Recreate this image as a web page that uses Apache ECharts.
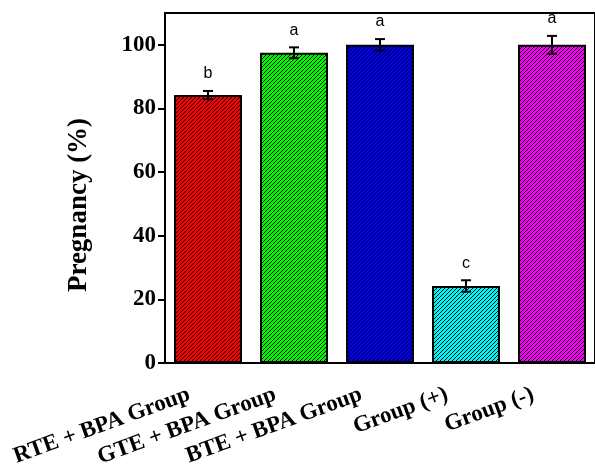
<!DOCTYPE html>
<html>
<head>
<meta charset="utf-8">
<script src="https://cdn.jsdelivr.net/npm/echarts@6/dist/echarts.min.js"></script>
<style>
  html, body { margin: 0; padding: 0; background: #fff; }
  #main { width: 595px; height: 464px; }
</style>
</head>
<body>
<div id="main"></div>
<script>
// data
const groups = ['RTE + BPA Group', 'GTE + BPA Group', 'BTE + BPA Group', 'Group (+)', 'Group (-)']
const pregnancy = [84.2, 97.5, 100, 24.2, 100]
const errors = [1.3, 1.7, 1.8, 1.8, 2.8]
const letters = ['b', 'a', 'a', 'c', 'a']
const barColors = ['#ff0000', '#00f800', '#0000f8', '#00f8f8', '#f800f8']
const yTicks = [0, 20, 40, 60, 80, 100]

// hatched fill: thin 45deg black stripes, drawn pixel by pixel so they stay crisp
function hatch (color) {
  const n = 4
  const c = document.createElement('canvas')
  c.width = n
  c.height = n
  const ctx = c.getContext('2d')
  ctx.fillStyle = color
  ctx.fillRect(0, 0, n, n)
  ctx.fillStyle = '#000'
  for (let x = 0; x < n; x++) {
    for (let y = 0; y < n; y++) {
      if ((x + y) % n === 0) ctx.fillRect(x, y, 1, 1)
    }
  }
  return { image: c, repeat: 'repeat' }
}

const myChart = echarts.init(document.getElementById('main'))

const option = {
  animation: false,
  grid: {
    left: 165, top: 13, width: 430, height: 350,
    outerBoundsMode: 'none',
    show: true, borderColor: '#000', borderWidth: 2, backgroundColor: 'transparent'
  },
  xAxis: {
    type: 'category',
    data: groups,
    axisLine: { lineStyle: { color: '#000', width: 2 } },
    axisTick: { alignWithLabel: true, length: 7, lineStyle: { color: '#000', width: 2 } },
    axisLabel: {
      interval: 0,
      rotate: 20,
      margin: 24,
      padding: [0, 20, 0, 0],
      color: '#000',
      fontFamily: 'Liberation Serif',
      fontWeight: 'bold',
      fontSize: 23
    }
  },
  yAxis: {
    type: 'value',
    min: 0,
    max: 110,
    interval: 20,
    name: 'Pregnancy (%)',
    nameLocation: 'middle',
    nameGap: 72,
    nameTextStyle: {
      color: '#000', fontFamily: 'Liberation Serif', fontWeight: 'bold', fontSize: 27,
      padding: [0, 34, 0, 0]
    },
    splitLine: { show: false },
    axisLine: { show: true, lineStyle: { color: '#000', width: 2 } },
    axisTick: { show: true, length: 7, customValues: yTicks, lineStyle: { color: '#000', width: 2 } },
    axisLabel: {
      customValues: yTicks,
      margin: 9,
      color: '#000',
      fontFamily: 'Liberation Serif',
      fontWeight: 'bold',
      fontSize: 23
    }
  },
  series: [
    {
      type: 'bar',
      barWidth: '79%',
      data: pregnancy.map((v, i) => ({
        value: v,
        itemStyle: { color: hatch(barColors[i]), borderColor: '#000', borderWidth: 2 }
      }))
    },
    {
      type: 'custom',
      data: pregnancy.map((v, i) => [i, v, errors[i]]),
      z: 5,
      renderItem: function (params, api) {
        const i = api.value(0)
        const v = api.value(1)
        const e = api.value(2)
        const hi = api.coord([i, v + e])
        const lo = api.coord([i, v - e])
        const cap = 5
        const st = { stroke: '#000', lineWidth: 2 }
        return {
          type: 'group',
          children: [
            { type: 'line', shape: { x1: hi[0], y1: hi[1], x2: lo[0], y2: lo[1] }, style: st },
            { type: 'line', shape: { x1: hi[0] - cap, y1: hi[1], x2: hi[0] + cap, y2: hi[1] }, style: st },
            { type: 'line', shape: { x1: lo[0] - cap, y1: lo[1], x2: lo[0] + cap, y2: lo[1] }, style: st },
            {
              type: 'text',
              style: {
                x: hi[0], y: hi[1] - 9,
                text: letters[params.dataIndex],
                fill: '#000',
                font: '16px "Liberation Sans"',
                align: 'center',
                verticalAlign: 'bottom'
              }
            }
          ]
        }
      }
    }
  ]
}

myChart.setOption(option)
</script>
</body>
</html>
